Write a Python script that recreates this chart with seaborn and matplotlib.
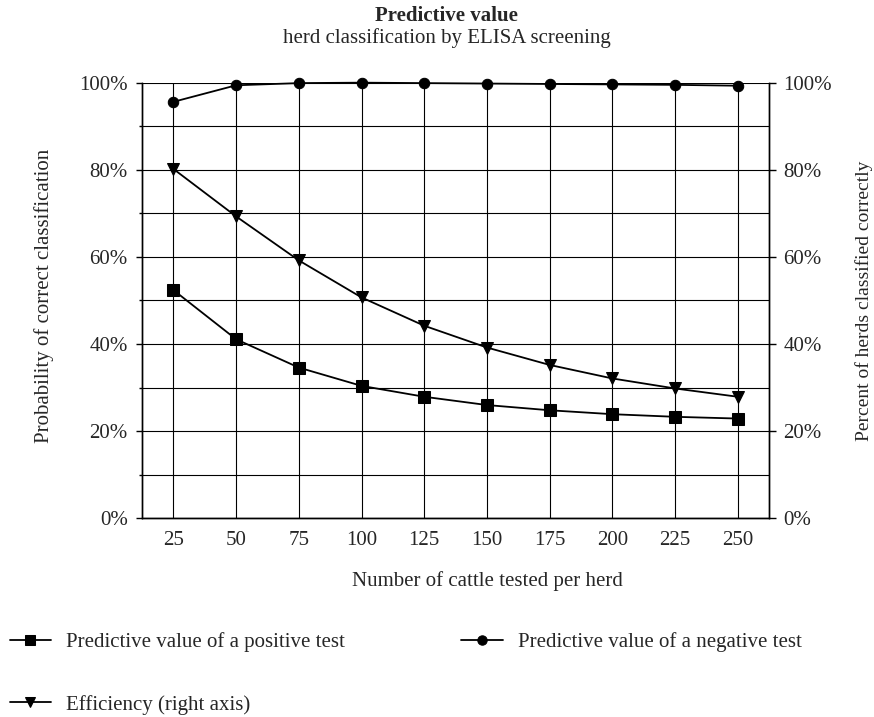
import matplotlib
matplotlib.use("Agg")
import matplotlib.pyplot as plt
import pandas as pd
import seaborn as sns
from matplotlib.ticker import MultipleLocator, PercentFormatter

# values (percent)
cattle_tested = [25, 50, 75, 100, 125, 150, 175, 200, 225, 250]
pv_positive = [52.4, 41.1, 34.6, 30.4, 27.9, 26.0, 24.8, 23.9, 23.3, 22.9]
pv_negative = [95.6, 99.4, 99.9, 100.0, 99.9, 99.8, 99.7, 99.6, 99.5, 99.3]
efficiency = [80.2, 69.3, 59.2, 50.7, 44.2, 39.2, 35.2, 32.1, 29.8, 27.9]

df = pd.DataFrame(
    {
        "n": cattle_tested,
        "pos": pv_positive,
        "neg": pv_negative,
        "eff": efficiency,
    }
)

sns.set_style("white")
plt.rcParams["font.family"] = ["Liberation Serif", "DejaVu Serif"]
plt.rcParams["font.size"] = 15

fig = plt.figure(figsize=(8.74, 7.17), dpi=100)
ax = fig.add_axes([0.1625, 0.2771, 0.7177, 0.6076])
ax2 = ax.twinx()

sns.lineplot(
    data=df, x="n", y="pos", ax=ax, color="black", linewidth=1.3,
    marker="s", markersize=8, markeredgecolor="black",
    label="Predictive value of a positive test", clip_on=False,
)
sns.lineplot(
    data=df, x="n", y="neg", ax=ax, color="black", linewidth=1.3,
    marker="o", markersize=7.5, markeredgecolor="black",
    label="Predictive value of a negative test", clip_on=False,
)
sns.lineplot(
    data=df, x="n", y="eff", ax=ax2, color="black", linewidth=1.3,
    marker="v", markersize=8.5, markeredgecolor="black",
    label="Efficiency (right axis)", clip_on=False,
)

for a in (ax, ax2):
    a.set_xlim(12.5, 262.5)
    a.set_ylim(0, 100)
    a.yaxis.set_major_locator(MultipleLocator(20))
    a.yaxis.set_major_formatter(PercentFormatter(decimals=0))
    a.spines["top"].set_visible(False)
    for s in ("left", "right", "bottom"):
        a.spines[s].set_color("black")
        a.spines[s].set_linewidth(1.0)

ax.set_xticks(cattle_tested)
ax.yaxis.set_minor_locator(MultipleLocator(10))
ax.grid(True, which="both", axis="y", color="black", linewidth=0.8)
ax.grid(True, which="major", axis="x", color="black", linewidth=0.8)
ax.tick_params(axis="y", which="major", direction="out", length=4.3, width=1,
               color="black", pad=6, labelsize=15, left=True)
ax.tick_params(axis="y", which="minor", direction="out", length=2.2, width=1,
               color="black", left=True)
ax.tick_params(axis="x", length=0, pad=9, labelsize=15)
ax2.tick_params(axis="y", direction="out", length=5, width=1, color="black",
                pad=5, labelsize=15, right=True)
ax2.grid(False)

ax.set_xlabel("Number of cattle tested per herd", fontsize=15)
ax.xaxis.set_label_coords(0.55, -0.12)
ax.set_ylabel("Probability of correct classification", fontsize=15)
ax.yaxis.set_label_coords(-0.14, 0.51)
ax2.set_ylabel("Percent of herds classified correctly", fontsize=14, rotation=90)
ax2.yaxis.set_label_coords(1.137, 0.5)

fig.text(0.511, 1 - 16 / 717, "Predictive value", ha="center", va="center",
         fontsize=15, fontweight="bold")
fig.text(0.511, 1 - 38 / 717, "herd classification by ELISA screening",
         ha="center", va="center", fontsize=15)

h1, l1 = ax.get_legend_handles_labels()
h2, l2 = ax2.get_legend_handles_labels()
ax.get_legend().remove()
ax2.get_legend().remove()
fig.legend(
    [h1[0], h2[0], h1[1]], [l1[0], l2[0], l1[1]],
    loc="upper left", bbox_to_anchor=(-0.001, 0.133), ncol=2,
    frameon=False, borderpad=0, handlelength=2.0, handletextpad=0.7,
    columnspacing=5.6, labelspacing=2.05, fontsize=15, markerscale=0.9,
)

fig.savefig("out.png", dpi=100)
